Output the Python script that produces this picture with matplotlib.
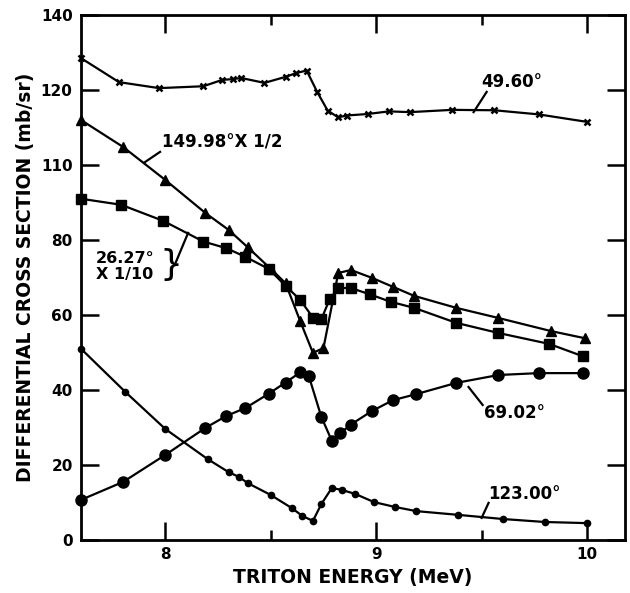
import matplotlib
matplotlib.use("Agg")
import matplotlib.pyplot as plt

# ---- data ----
e49 = [7.60, 7.78, 7.97, 8.18, 8.27, 8.32, 8.36, 8.47, 8.57, 8.62, 8.67, 8.72, 8.77,
       8.82, 8.86, 8.96, 9.06, 9.16, 9.36, 9.56, 9.77, 10.00]
y49 = [128.5, 122.1, 120.5, 121.0, 122.7, 122.9, 123.2, 121.9, 123.5, 124.5, 125.2,
       119.5, 114.5, 112.7, 113.2, 113.6, 114.3, 114.1, 114.7, 114.6, 113.5, 111.5]

e149 = [7.60, 7.80, 8.00, 8.19, 8.30, 8.39, 8.50, 8.57, 8.64, 8.70, 8.75, 8.82, 8.88,
        8.98, 9.08, 9.18, 9.38, 9.58, 9.83, 9.99]
y149 = [112.0, 104.8, 96.0, 87.2, 82.7, 78.1, 72.3, 68.5, 58.3, 49.9, 51.2, 71.2, 72.0,
        69.9, 67.5, 65.1, 61.9, 59.2, 55.7, 53.8]

e26 = [7.60, 7.79, 7.99, 8.18, 8.29, 8.38, 8.49, 8.57, 8.64, 8.70, 8.74, 8.78, 8.82,
       8.88, 8.97, 9.07, 9.18, 9.38, 9.58, 9.82, 9.98]
y26 = [91.0, 89.4, 85.1, 79.6, 77.8, 75.5, 72.3, 67.8, 64.0, 59.3, 58.9, 64.3, 67.2,
       67.2, 65.5, 63.5, 61.9, 57.9, 55.2, 52.3, 49.0]

e69 = [7.60, 7.80, 8.00, 8.19, 8.29, 8.38, 8.49, 8.57, 8.64, 8.68, 8.74, 8.79, 8.83,
       8.88, 8.98, 9.08, 9.19, 9.38, 9.58, 9.77, 9.98]
y69 = [10.7, 15.5, 22.7, 29.9, 33.1, 35.2, 39.0, 42.0, 44.7, 43.8, 32.8, 26.4, 28.5,
       30.8, 34.4, 37.3, 38.9, 41.9, 44.0, 44.5, 44.5]

e123 = [7.60, 7.81, 8.00, 8.20, 8.30, 8.35, 8.39, 8.50, 8.60, 8.65, 8.70, 8.74, 8.79,
        8.84, 8.90, 8.99, 9.09, 9.19, 9.39, 9.60, 9.80, 10.00]
y123 = [51.0, 39.5, 29.6, 21.6, 18.1, 16.8, 15.2, 12.0, 8.5, 6.4, 5.1, 9.6, 13.9,
        13.3, 12.3, 10.1, 8.8, 7.7, 6.7, 5.6, 4.8, 4.5]

xticks = [8, 9, 10]
xtick_labels = ["8", "9", "10"]
yticks = [0, 20, 40, 60, 80, 100, 120, 140]
ytick_labels = ["0", "20", "40", "60", "80", "110", "120", "140"]

plt.rcParams['font.family'] = ['DejaVu Sans']
plt.rcParams['font.weight'] = 'bold'

fig = plt.figure(figsize=(6.30, 5.93), dpi=100)
ax = fig.add_axes([81/630, 53/593, (625-81)/630, (540-15)/593])

lw = 1.6
ax.plot(e49, y49, color='black', lw=lw, marker='x', ms=4.5, mew=1.8, clip_on=False)
ax.plot(e149, y149, color='black', lw=lw, marker='^', ms=7.5, clip_on=False)
ax.plot(e26, y26, color='black', lw=lw, marker='s', ms=7, clip_on=False)
ax.plot(e69, y69, color='black', lw=lw, marker='o', ms=8, clip_on=False)
ax.plot(e123, y123, color='black', lw=lw, marker='o', ms=4.5, clip_on=False)

ax.set_xlim(7.6, 10.18)
ax.set_ylim(0, 140)
ax.set_xticks(xticks)
ax.set_xticklabels(xtick_labels)
ax.set_xticks([8.5, 9.5], minor=True)
ax.set_yticks(yticks)
ax.set_yticklabels(ytick_labels)

for s in ax.spines.values():
    s.set_linewidth(2.0)
ax.tick_params(which='major', direction='in', length=13, width=1.8,
               top=True, right=True, labelsize=11)
ax.tick_params(axis='x', which='major', pad=5)
ax.tick_params(axis='y', which='major', pad=6)
ax.tick_params(which='minor', direction='in', length=7, width=1.8,
               top=True, right=True)
for lab in ax.get_xticklabels() + ax.get_yticklabels():
    lab.set_fontweight('bold')

ax.set_xlabel("TRITON ENERGY (MeV)", fontsize=13.5, fontweight='bold', labelpad=4)
ax.set_ylabel("DIFFERENTIAL CROSS SECTION (mb/sr)", fontsize=13.5, fontweight='bold',
              labelpad=4)

tkw = dict(fontsize=12, fontweight='bold', color='black')
lkw = dict(color='black', lw=1.6)

# 49.60
ax.text(9.50, 122.1, "49.60°", ha='left', va='center', **tkw)
ax.plot([9.524, 9.462], [119.5, 114.1], **lkw)
# 149.98 x 1/2
ax.text(7.985, 106.1, "149.98°X 1/2", ha='left', va='center', **tkw)
ax.plot([7.975, 7.904], [103.5, 100.8], **lkw)
# 26.27 x 1/10
ax.text(7.67, 73.0, "26.27°\nX 1/10", ha='left', va='center', linespacing=1.1,
        fontsize=11.5, fontweight='bold', color='black')
ax.text(8.025, 73.3, "}", ha='center', va='center', fontsize=26, fontweight='normal')
ax.plot([8.05, 8.108], [74.1, 81.9], **lkw)
# 69.02
ax.text(9.51, 33.9, "69.02°", ha='left', va='center', **tkw)
ax.plot([9.505, 9.438], [36.0, 40.8], **lkw)
# 123.00
ax.text(9.53, 12.3, "123.00°", ha='left', va='center', **tkw)
ax.plot([9.533, 9.50], [9.9, 5.9], **lkw)

fig.savefig("out.png", dpi=100)
